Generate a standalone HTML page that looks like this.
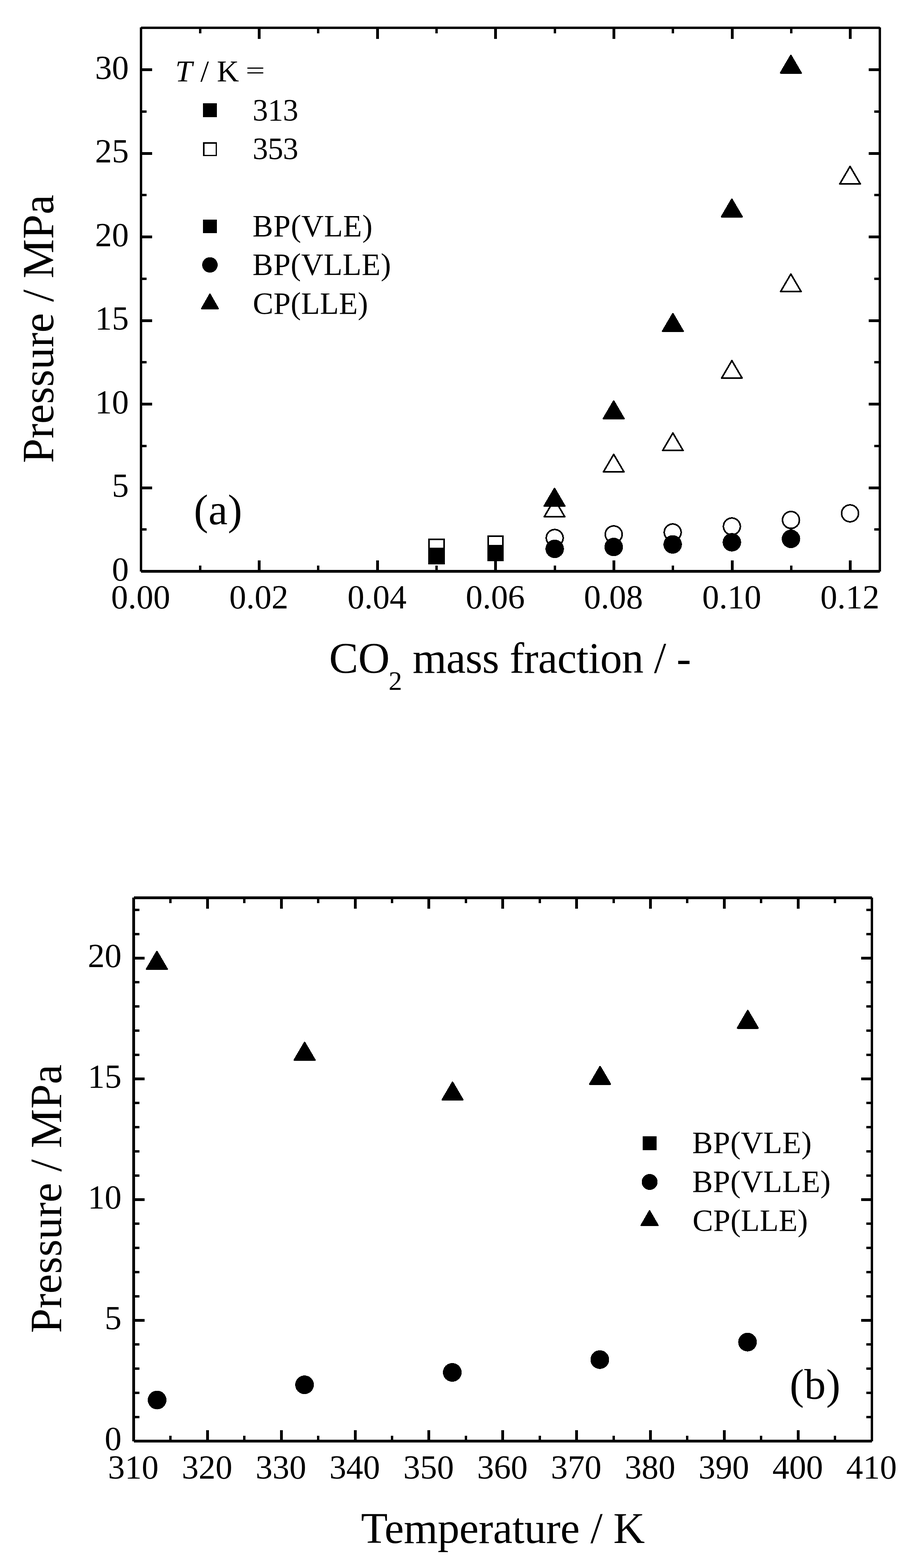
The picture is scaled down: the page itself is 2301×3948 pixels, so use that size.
<!DOCTYPE html>
<html><head><meta charset="utf-8"><title>Pressure vs CO2 mass fraction and temperature</title>
<style>
html,body{margin:0;padding:0;background:#fff;}
body{width:2301px;height:3948px;overflow:hidden;}
svg{display:block;}
text{font-family:'Liberation Serif','Times New Roman',serif;fill:#000;}
</style></head>
<body>
<svg width="2301" height="3948" viewBox="0 0 2301 3948">
<rect x="0" y="0" width="2301" height="3948" fill="#fff"/>
<g fill="#000" shape-rendering="crispEdges">
<rect x="352.00" y="69.00" width="6.00" height="1370.00"/>
<rect x="355.00" y="67.00" width="1860.00" height="6.00"/>
<rect x="2212.00" y="69.00" width="6.00" height="1370.00"/>
<rect x="355.00" y="1435.00" width="1860.00" height="7.00"/>
<rect x="358.00" y="1435.00" width="25.00" height="7.00"/>
<rect x="2187.00" y="1435.00" width="25.00" height="7.00"/>
<rect x="358.00" y="1330.25" width="11.00" height="6.00"/>
<rect x="2201.00" y="1330.25" width="11.00" height="6.00"/>
<rect x="358.00" y="1224.50" width="25.00" height="7.00"/>
<rect x="2187.00" y="1224.50" width="25.00" height="7.00"/>
<rect x="358.00" y="1119.75" width="11.00" height="6.00"/>
<rect x="2201.00" y="1119.75" width="11.00" height="6.00"/>
<rect x="358.00" y="1014.00" width="25.00" height="7.00"/>
<rect x="2187.00" y="1014.00" width="25.00" height="7.00"/>
<rect x="358.00" y="909.25" width="11.00" height="6.00"/>
<rect x="2201.00" y="909.25" width="11.00" height="6.00"/>
<rect x="358.00" y="803.50" width="25.00" height="7.00"/>
<rect x="2187.00" y="803.50" width="25.00" height="7.00"/>
<rect x="358.00" y="698.75" width="11.00" height="6.00"/>
<rect x="2201.00" y="698.75" width="11.00" height="6.00"/>
<rect x="358.00" y="593.00" width="25.00" height="7.00"/>
<rect x="2187.00" y="593.00" width="25.00" height="7.00"/>
<rect x="358.00" y="488.25" width="11.00" height="6.00"/>
<rect x="2201.00" y="488.25" width="11.00" height="6.00"/>
<rect x="358.00" y="382.50" width="25.00" height="7.00"/>
<rect x="2187.00" y="382.50" width="25.00" height="7.00"/>
<rect x="358.00" y="277.75" width="11.00" height="6.00"/>
<rect x="2201.00" y="277.75" width="11.00" height="6.00"/>
<rect x="358.00" y="172.00" width="25.00" height="7.00"/>
<rect x="2187.00" y="172.00" width="25.00" height="7.00"/>
<rect x="500.80" y="1424.00" width="6.00" height="11.00"/>
<rect x="500.80" y="73.00" width="6.00" height="11.00"/>
<rect x="649.10" y="1411.00" width="7.00" height="24.00"/>
<rect x="649.10" y="73.00" width="7.00" height="25.00"/>
<rect x="798.40" y="1424.00" width="6.00" height="11.00"/>
<rect x="798.40" y="73.00" width="6.00" height="11.00"/>
<rect x="946.70" y="1411.00" width="7.00" height="24.00"/>
<rect x="946.70" y="73.00" width="7.00" height="25.00"/>
<rect x="1096.00" y="1424.00" width="6.00" height="11.00"/>
<rect x="1096.00" y="73.00" width="6.00" height="11.00"/>
<rect x="1244.30" y="1411.00" width="7.00" height="24.00"/>
<rect x="1244.30" y="73.00" width="7.00" height="25.00"/>
<rect x="1393.60" y="1424.00" width="6.00" height="11.00"/>
<rect x="1393.60" y="73.00" width="6.00" height="11.00"/>
<rect x="1541.90" y="1411.00" width="7.00" height="24.00"/>
<rect x="1541.90" y="73.00" width="7.00" height="25.00"/>
<rect x="1691.20" y="1424.00" width="6.00" height="11.00"/>
<rect x="1691.20" y="73.00" width="6.00" height="11.00"/>
<rect x="1839.50" y="1411.00" width="7.00" height="24.00"/>
<rect x="1839.50" y="73.00" width="7.00" height="25.00"/>
<rect x="1988.80" y="1424.00" width="6.00" height="11.00"/>
<rect x="1988.80" y="73.00" width="6.00" height="11.00"/>
<rect x="2137.10" y="1411.00" width="7.00" height="24.00"/>
<rect x="2137.10" y="73.00" width="7.00" height="25.00"/>
<text x="324.30" y="1461.90" font-size="85" text-anchor="end" >0</text>
<text x="324.30" y="1251.40" font-size="85" text-anchor="end" >5</text>
<text x="324.30" y="1040.90" font-size="85" text-anchor="end" >10</text>
<text x="324.30" y="830.40" font-size="85" text-anchor="end" >15</text>
<text x="324.30" y="619.90" font-size="85" text-anchor="end" >20</text>
<text x="324.30" y="409.40" font-size="85" text-anchor="end" >25</text>
<text x="324.30" y="198.90" font-size="85" text-anchor="end" >30</text>
<text x="354.00" y="1531.70" font-size="85" text-anchor="middle" >0.00</text>
<text x="651.60" y="1531.70" font-size="85" text-anchor="middle" >0.02</text>
<text x="949.20" y="1531.70" font-size="85" text-anchor="middle" >0.04</text>
<text x="1246.80" y="1531.70" font-size="85" text-anchor="middle" >0.06</text>
<text x="1544.40" y="1531.70" font-size="85" text-anchor="middle" >0.08</text>
<text x="1842.00" y="1531.70" font-size="85" text-anchor="middle" >0.10</text>
<text x="2139.60" y="1531.70" font-size="85" text-anchor="middle" >0.12</text>
<text x="-1166.11" y="0" font-size="111.5" textLength="675.74" lengthAdjust="spacing" transform="translate(134.00,0) rotate(-90)" >Pressure / MPa</text>
<text x="828.40" y="1693.80" font-size="110" text-anchor="start" >CO</text>
<text x="978.20" y="1736.90" font-size="68" text-anchor="start" >2</text>
<text x="1038.69" y="1693.80" font-size="110" textLength="701.18" lengthAdjust="spacing" >mass fraction / -</text>
<text x="441.16" y="204.70" font-size="77" textLength="42.82" lengthAdjust="spacing" font-style="italic">T</text>
<text x="504.40" y="204.70" font-size="77" textLength="97.09" lengthAdjust="spacing" >/ K</text>
<text x="618.52" y="197.7" font-size="61" textLength="48.48" lengthAdjust="spacingAndGlyphs">=</text>
<rect x="511.00" y="260.00" width="35.00" height="35.00"/>
<text x="636.09" y="302.80" font-size="77.5" textLength="114.94" lengthAdjust="spacing" >313</text>
<rect x="512.75" y="359.75" width="31.5" height="31.5" fill="#fff" stroke="#000" stroke-width="3.5"/>
<text x="636.09" y="400.00" font-size="77.5" textLength="114.94" lengthAdjust="spacing" >353</text>
<rect x="511.00" y="553.00" width="35.00" height="34.00"/>
<text x="635.87" y="594.50" font-size="77.5" textLength="301.84" lengthAdjust="spacing" >BP(VLE)</text>
<circle cx="528.5" cy="667" r="19.5"/>
<text x="635.87" y="691.70" font-size="77.5" textLength="348.34" lengthAdjust="spacing" >BP(VLLE)</text>
<path d="M507.80 777.00 L528.50 740.80 L549.20 777.00 Z" fill="#000" stroke="#000" stroke-width="3.6" stroke-linejoin="round"/>
<text x="636.52" y="789.90" font-size="77.5" textLength="290.08" lengthAdjust="spacing" >CP(LLE)</text>
<text x="487.92" y="1320.40" font-size="108.7" textLength="121.85" lengthAdjust="spacing" >(a)</text>
<rect x="1080.00" y="1358.00" width="38.00" height="38.00" fill="#fff" stroke="#000" stroke-width="4"/>
<rect x="1229.00" y="1350.00" width="37.00" height="37.00" fill="#fff" stroke="#000" stroke-width="4"/>
<rect x="1078.00" y="1378.50" width="42.00" height="42.00"/>
<rect x="1227.00" y="1372.00" width="41.00" height="41.00"/>
<path d="M1370.25 1301.00 L1396.00 1257.00 L1421.75 1301.00 Z" fill="#fff" stroke="#000" stroke-width="4" stroke-linejoin="round"/>
<path d="M1519.25 1188.00 L1545.00 1144.00 L1570.75 1188.00 Z" fill="#fff" stroke="#000" stroke-width="4" stroke-linejoin="round"/>
<path d="M1668.25 1134.30 L1694.00 1090.30 L1719.75 1134.30 Z" fill="#fff" stroke="#000" stroke-width="4" stroke-linejoin="round"/>
<path d="M1816.75 952.00 L1842.50 908.00 L1868.25 952.00 Z" fill="#fff" stroke="#000" stroke-width="4" stroke-linejoin="round"/>
<path d="M1965.25 734.00 L1991.00 690.00 L2016.75 734.00 Z" fill="#fff" stroke="#000" stroke-width="4" stroke-linejoin="round"/>
<path d="M2114.25 463.00 L2140.00 419.00 L2165.75 463.00 Z" fill="#fff" stroke="#000" stroke-width="4" stroke-linejoin="round"/>
<path d="M1370.25 1274.00 L1396.00 1230.00 L1421.75 1274.00 Z" fill="#000" stroke="#000" stroke-width="4" stroke-linejoin="round"/>
<path d="M1519.25 1054.00 L1545.00 1010.00 L1570.75 1054.00 Z" fill="#000" stroke="#000" stroke-width="4" stroke-linejoin="round"/>
<path d="M1668.25 834.00 L1694.00 790.00 L1719.75 834.00 Z" fill="#000" stroke="#000" stroke-width="4" stroke-linejoin="round"/>
<path d="M1816.65 545.80 L1842.40 501.80 L1868.15 545.80 Z" fill="#000" stroke="#000" stroke-width="4" stroke-linejoin="round"/>
<path d="M1965.25 183.70 L1991.00 139.70 L2016.75 183.70 Z" fill="#000" stroke="#000" stroke-width="4" stroke-linejoin="round"/>
<circle cx="1396.50" cy="1354.50" r="21.25" fill="#fff" stroke="#000" stroke-width="4"/>
<circle cx="1545.00" cy="1345.50" r="21.25" fill="#fff" stroke="#000" stroke-width="4"/>
<circle cx="1693.50" cy="1340.50" r="21.25" fill="#fff" stroke="#000" stroke-width="4"/>
<circle cx="1842.50" cy="1325.50" r="21.25" fill="#fff" stroke="#000" stroke-width="4"/>
<circle cx="1991.30" cy="1309.20" r="21.25" fill="#fff" stroke="#000" stroke-width="4"/>
<circle cx="2140.00" cy="1292.50" r="21.25" fill="#fff" stroke="#000" stroke-width="4"/>
<circle cx="1396.50" cy="1381.90" r="23.25"/>
<circle cx="1545.00" cy="1377.30" r="23.25"/>
<circle cx="1693.50" cy="1370.80" r="23.25"/>
<circle cx="1842.50" cy="1365.40" r="23.25"/>
<circle cx="1991.30" cy="1356.80" r="23.25"/>
<rect x="1988.00" y="1331.30" width="7.00" height="3.40"/>
<rect x="333.00" y="2260.00" width="7.00" height="1369.00"/>
<rect x="336.50" y="2257.00" width="1858.50" height="7.00"/>
<rect x="2192.00" y="2260.00" width="6.00" height="1369.00"/>
<rect x="336.50" y="3625.00" width="1858.50" height="7.00"/>
<rect x="340.00" y="3564.70" width="11.00" height="6.00"/>
<rect x="2181.00" y="3564.70" width="11.00" height="6.00"/>
<rect x="340.00" y="3503.90" width="11.00" height="6.00"/>
<rect x="2181.00" y="3503.90" width="11.00" height="6.00"/>
<rect x="340.00" y="3443.10" width="11.00" height="6.00"/>
<rect x="2181.00" y="3443.10" width="11.00" height="6.00"/>
<rect x="340.00" y="3382.30" width="11.00" height="6.00"/>
<rect x="2181.00" y="3382.30" width="11.00" height="6.00"/>
<rect x="340.00" y="3321.00" width="24.00" height="7.00"/>
<rect x="2168.00" y="3321.00" width="24.00" height="7.00"/>
<rect x="340.00" y="3260.70" width="11.00" height="6.00"/>
<rect x="2181.00" y="3260.70" width="11.00" height="6.00"/>
<rect x="340.00" y="3199.90" width="11.00" height="6.00"/>
<rect x="2181.00" y="3199.90" width="11.00" height="6.00"/>
<rect x="340.00" y="3139.10" width="11.00" height="6.00"/>
<rect x="2181.00" y="3139.10" width="11.00" height="6.00"/>
<rect x="340.00" y="3078.30" width="11.00" height="6.00"/>
<rect x="2181.00" y="3078.30" width="11.00" height="6.00"/>
<rect x="340.00" y="3017.00" width="24.00" height="7.00"/>
<rect x="2168.00" y="3017.00" width="24.00" height="7.00"/>
<rect x="340.00" y="2956.70" width="11.00" height="6.00"/>
<rect x="2181.00" y="2956.70" width="11.00" height="6.00"/>
<rect x="340.00" y="2895.90" width="11.00" height="6.00"/>
<rect x="2181.00" y="2895.90" width="11.00" height="6.00"/>
<rect x="340.00" y="2835.10" width="11.00" height="6.00"/>
<rect x="2181.00" y="2835.10" width="11.00" height="6.00"/>
<rect x="340.00" y="2774.30" width="11.00" height="6.00"/>
<rect x="2181.00" y="2774.30" width="11.00" height="6.00"/>
<rect x="340.00" y="2713.00" width="24.00" height="7.00"/>
<rect x="2168.00" y="2713.00" width="24.00" height="7.00"/>
<rect x="340.00" y="2652.70" width="11.00" height="6.00"/>
<rect x="2181.00" y="2652.70" width="11.00" height="6.00"/>
<rect x="340.00" y="2591.90" width="11.00" height="6.00"/>
<rect x="2181.00" y="2591.90" width="11.00" height="6.00"/>
<rect x="340.00" y="2531.10" width="11.00" height="6.00"/>
<rect x="2181.00" y="2531.10" width="11.00" height="6.00"/>
<rect x="340.00" y="2470.30" width="11.00" height="6.00"/>
<rect x="2181.00" y="2470.30" width="11.00" height="6.00"/>
<rect x="340.00" y="2409.00" width="24.00" height="7.00"/>
<rect x="2168.00" y="2409.00" width="24.00" height="7.00"/>
<rect x="340.00" y="2348.70" width="11.00" height="6.00"/>
<rect x="2181.00" y="2348.70" width="11.00" height="6.00"/>
<rect x="340.00" y="2287.90" width="11.00" height="6.00"/>
<rect x="2181.00" y="2287.90" width="11.00" height="6.00"/>
<rect x="426.43" y="3615.00" width="6.00" height="10.00"/>
<rect x="426.43" y="2264.00" width="6.00" height="10.00"/>
<rect x="518.85" y="3601.00" width="7.00" height="24.00"/>
<rect x="518.85" y="2264.00" width="7.00" height="24.00"/>
<rect x="612.28" y="3615.00" width="6.00" height="10.00"/>
<rect x="612.28" y="2264.00" width="6.00" height="10.00"/>
<rect x="704.70" y="3601.00" width="7.00" height="24.00"/>
<rect x="704.70" y="2264.00" width="7.00" height="24.00"/>
<rect x="798.12" y="3615.00" width="6.00" height="10.00"/>
<rect x="798.12" y="2264.00" width="6.00" height="10.00"/>
<rect x="890.55" y="3601.00" width="7.00" height="24.00"/>
<rect x="890.55" y="2264.00" width="7.00" height="24.00"/>
<rect x="983.98" y="3615.00" width="6.00" height="10.00"/>
<rect x="983.98" y="2264.00" width="6.00" height="10.00"/>
<rect x="1076.40" y="3601.00" width="7.00" height="24.00"/>
<rect x="1076.40" y="2264.00" width="7.00" height="24.00"/>
<rect x="1169.83" y="3615.00" width="6.00" height="10.00"/>
<rect x="1169.83" y="2264.00" width="6.00" height="10.00"/>
<rect x="1262.25" y="3601.00" width="7.00" height="24.00"/>
<rect x="1262.25" y="2264.00" width="7.00" height="24.00"/>
<rect x="1355.68" y="3615.00" width="6.00" height="10.00"/>
<rect x="1355.68" y="2264.00" width="6.00" height="10.00"/>
<rect x="1448.10" y="3601.00" width="7.00" height="24.00"/>
<rect x="1448.10" y="2264.00" width="7.00" height="24.00"/>
<rect x="1541.53" y="3615.00" width="6.00" height="10.00"/>
<rect x="1541.53" y="2264.00" width="6.00" height="10.00"/>
<rect x="1633.95" y="3601.00" width="7.00" height="24.00"/>
<rect x="1633.95" y="2264.00" width="7.00" height="24.00"/>
<rect x="1727.38" y="3615.00" width="6.00" height="10.00"/>
<rect x="1727.38" y="2264.00" width="6.00" height="10.00"/>
<rect x="1819.80" y="3601.00" width="7.00" height="24.00"/>
<rect x="1819.80" y="2264.00" width="7.00" height="24.00"/>
<rect x="1913.23" y="3615.00" width="6.00" height="10.00"/>
<rect x="1913.23" y="2264.00" width="6.00" height="10.00"/>
<rect x="2005.65" y="3601.00" width="7.00" height="24.00"/>
<rect x="2005.65" y="2264.00" width="7.00" height="24.00"/>
<rect x="2099.07" y="3615.00" width="6.00" height="10.00"/>
<rect x="2099.07" y="2264.00" width="6.00" height="10.00"/>
<text x="306.10" y="3650.50" font-size="85" text-anchor="end" >0</text>
<text x="306.10" y="3346.50" font-size="85" text-anchor="end" >5</text>
<text x="306.10" y="3042.50" font-size="85" text-anchor="end" >10</text>
<text x="306.10" y="2738.50" font-size="85" text-anchor="end" >15</text>
<text x="306.10" y="2434.50" font-size="85" text-anchor="end" >20</text>
<text x="335.50" y="3723.00" font-size="85" text-anchor="middle" >310</text>
<text x="521.35" y="3723.00" font-size="85" text-anchor="middle" >320</text>
<text x="707.20" y="3723.00" font-size="85" text-anchor="middle" >330</text>
<text x="893.05" y="3723.00" font-size="85" text-anchor="middle" >340</text>
<text x="1078.90" y="3723.00" font-size="85" text-anchor="middle" >350</text>
<text x="1264.75" y="3723.00" font-size="85" text-anchor="middle" >360</text>
<text x="1450.60" y="3723.00" font-size="85" text-anchor="middle" >370</text>
<text x="1636.45" y="3723.00" font-size="85" text-anchor="middle" >380</text>
<text x="1822.30" y="3723.00" font-size="85" text-anchor="middle" >390</text>
<text x="2008.15" y="3723.00" font-size="85" text-anchor="middle" >400</text>
<text x="2194.00" y="3723.00" font-size="85" text-anchor="middle" >410</text>
<text x="-3356.51" y="0" font-size="111.5" textLength="676.34" lengthAdjust="spacing" transform="translate(154.00,0) rotate(-90)" >Pressure / MPa</text>
<text x="908.81" y="3884.90" font-size="110" textLength="714.52" lengthAdjust="spacing" >Temperature / K</text>
<rect x="1618.00" y="2861.00" width="34.50" height="34.50"/>
<text x="1742.87" y="2903.00" font-size="77.5" textLength="300.34" lengthAdjust="spacing" >BP(VLE)</text>
<circle cx="1635.5" cy="2976" r="20"/>
<text x="1742.87" y="3000.50" font-size="77.5" textLength="348.24" lengthAdjust="spacing" >BP(VLLE)</text>
<path d="M1614.10 3085.50 L1635.30 3048.80 L1656.50 3085.50 Z" fill="#000" stroke="#000" stroke-width="3.6" stroke-linejoin="round"/>
<text x="1743.52" y="3098.75" font-size="77.5" textLength="290.38" lengthAdjust="spacing" >CP(LLE)</text>
<text x="1987.95" y="3522.30" font-size="108.2" textLength="127.81" lengthAdjust="spacing" >(b)</text>
<path d="M369.25 2439.90 L395.00 2395.90 L420.75 2439.90 Z" fill="#000" stroke="#000" stroke-width="4" stroke-linejoin="round"/>
<path d="M741.15 2668.90 L766.90 2624.90 L792.65 2668.90 Z" fill="#000" stroke="#000" stroke-width="4" stroke-linejoin="round"/>
<path d="M1113.55 2769.20 L1139.30 2725.20 L1165.05 2769.20 Z" fill="#000" stroke="#000" stroke-width="4" stroke-linejoin="round"/>
<path d="M1484.95 2729.70 L1510.70 2685.70 L1536.45 2729.70 Z" fill="#000" stroke="#000" stroke-width="4" stroke-linejoin="round"/>
<path d="M1856.75 2588.50 L1882.50 2544.50 L1908.25 2588.50 Z" fill="#000" stroke="#000" stroke-width="4" stroke-linejoin="round"/>
<circle cx="395.50" cy="3525.00" r="23.50"/>
<circle cx="766.70" cy="3486.70" r="23.50"/>
<circle cx="1138.60" cy="3455.50" r="23.50"/>
<circle cx="1510.00" cy="3423.30" r="23.50"/>
<circle cx="1881.90" cy="3379.20" r="23.50"/>
</g>
</svg>
</body></html>
